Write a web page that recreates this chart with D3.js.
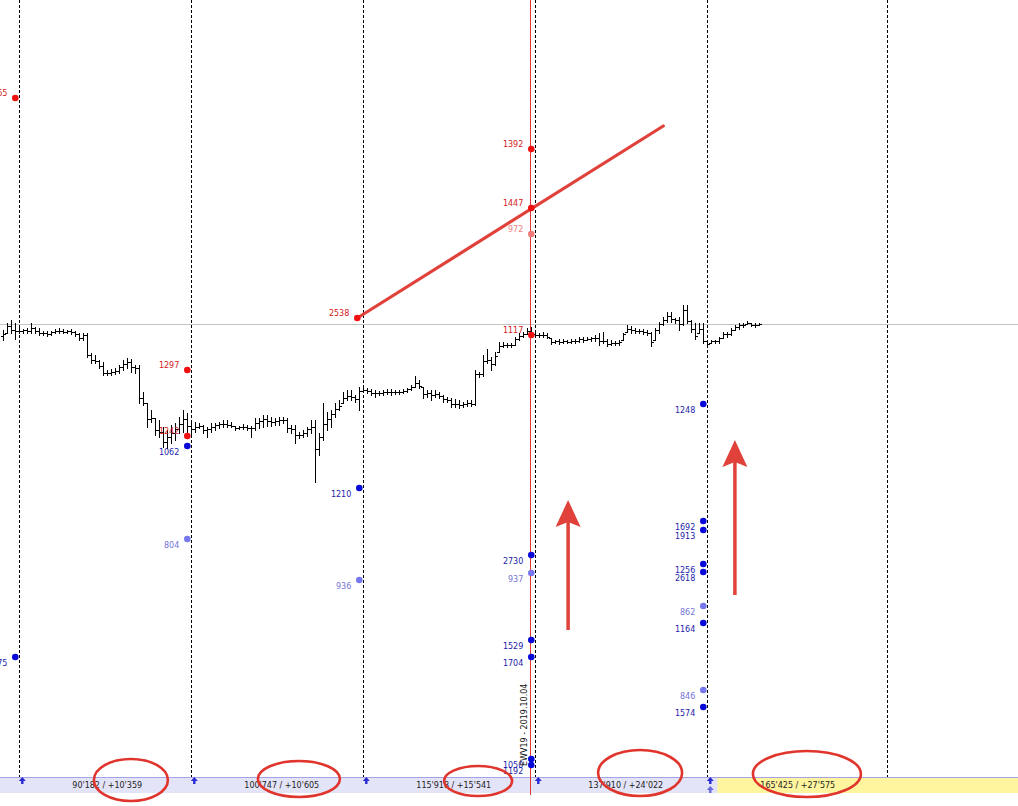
<!DOCTYPE html>
<html>
<head>
<meta charset="utf-8">
<script src="https://cdn.jsdelivr.net/npm/d3@7"></script>
<style>
  body { margin: 0; background: #fff; }
  svg { display: block; }
  .lbl { font-family: "DejaVu Sans", Verdana, sans-serif; font-size: 8px; }
</style>
</head>
<body>
<div id="chart"></div>
<script>
// bar data (high / low / close), opens taken from previous close
const barHigh = [
  994, 1001, 1004, 1001, 996, 995, 996, 1001, 997, 996, 993, 993, 993, 995, 996, 995, 994, 995, 993, 991,
  991, 991, 971, 969, 964, 962, 954, 955, 956, 959, 964, 966, 965, 959, 959, 932, 921, 914, 906, 904,
  897, 894, 899, 901, 907, 914, 911, 904, 902, 901, 899, 897, 901, 901, 902, 904, 904, 902, 898, 898,
  900, 899, 898, 906, 906, 909, 909, 907, 906, 907, 907, 906, 899, 899, 892, 894, 897, 904, 904, 891,
  921, 912, 914, 921, 924, 932, 934, 934, 929, 937, 937, 936, 935, 934, 933, 934, 935, 935, 934, 934,
  935, 936, 939, 948, 944, 937, 934, 934, 934, 932, 929, 927, 926, 925, 924, 922, 924, 924, 954, 952,
  969, 975, 967, 972, 982, 982, 981, 981, 987, 991, 992, 996, 997, 991, 991, 992, 991, 986, 984, 985,
  985, 984, 985, 985, 987, 987, 987, 987, 989, 991, 992, 985, 984, 983, 984, 991, 999, 998, 996, 995,
  995, 994, 992, 996, 1002, 1007, 1012, 1012, 1006, 1007, 1019, 1019, 1004, 1001, 1001, 1001, 984, 984, 984, 987,
  992, 992, 996, 999, 1001, 1001, 1003, 1001, 1001, 1001
];
const barLow = [
  984, 991, 991, 985, 991, 991, 991, 991, 991, 989, 989, 988, 989, 991, 991, 991, 991, 990, 988, 984,
  984, 967, 961, 961, 956, 949, 949, 949, 950, 951, 954, 956, 952, 951, 921, 919, 897, 902, 889, 887,
  877, 876, 881, 884, 891, 892, 891, 887, 892, 896, 891, 887, 892, 894, 896, 897, 897, 897, 894, 895,
  895, 894, 887, 894, 896, 897, 898, 898, 899, 899, 901, 892, 891, 881, 886, 887, 888, 891, 842, 869,
  884, 894, 897, 907, 914, 921, 924, 924, 922, 914, 932, 931, 929, 927, 929, 929, 930, 929, 930, 930,
  931, 932, 934, 937, 936, 926, 927, 924, 927, 926, 922, 922, 917, 917, 916, 917, 918, 918, 919, 947,
  948, 961, 954, 959, 972, 977, 977, 977, 979, 984, 987, 990, 989, 987, 987, 987, 986, 980, 981, 980,
  981, 981, 981, 981, 982, 982, 984, 983, 983, 979, 981, 978, 979, 979, 979, 984, 992, 991, 991, 991,
  990, 989, 978, 984, 991, 999, 1002, 1002, 1001, 994, 999, 1001, 992, 985, 991, 981, 977, 981, 981, 981,
  986, 987, 989, 994, 995, 997, 1000, 998, 997, 999
];
const barClose = [
  990, 998, 994, 993, 993, 994, 993, 996, 993, 991, 991, 990, 992, 993, 993, 992, 993, 992, 990, 986,
  989, 969, 964, 963, 958, 951, 951, 952, 953, 957, 960, 962, 957, 956, 926, 921, 905, 906, 894, 892,
  882, 887, 891, 895, 900, 905, 898, 895, 897, 898, 894, 895, 897, 899, 900, 900, 899, 898, 896, 897,
  897, 896, 896, 901, 903, 905, 903, 902, 903, 904, 904, 896, 895, 889, 889, 891, 895, 897, 875, 887,
  900, 905, 910, 915, 918, 926, 928, 927, 925, 933, 934, 933, 931, 931, 931, 932, 932, 932, 932, 932,
  933, 935, 937, 941, 938, 930, 931, 929, 930, 928, 925, 924, 920, 920, 919, 920, 921, 920, 950, 950,
  963, 964, 960, 968, 978, 979, 979, 979, 985, 988, 990, 993, 990, 989, 989, 989, 987, 982, 983, 982,
  983, 982, 983, 983, 985, 984, 985, 986, 986, 983, 983, 980, 981, 981, 982, 990, 995, 994, 993, 993,
  992, 991, 982, 994, 1000, 1004, 1008, 1005, 1004, 1000, 1014, 1003, 995, 988, 995, 983, 980, 983, 983, 986,
  990, 990, 994, 997, 999, 999, 1001, 999, 999, 1000
];
const firstOpen = 988;

const sessionStarts = [4, 47, 90, 133, 176, 221];
const sessionTotals = ["90'182 / +10'359", "100'747 / +10'605", "115'918 / +15'541", "137'910 / +24'022", "165'425 / +27'575"];
const refLevel = 1000;

// [session, price, label, kind]
const levelMarkers = [
  [0, 1226, "1265", "red"], [0, 667, "1675", "blue"],
  [1, 954, "1297", "red"], [1, 888, "1242", "red"], [1, 878, "1062", "blue"], [1, 785, "804", "light"],
  [2, 836, "1210", "blue"], [2, 744, "936", "light"],
  [3, 1175, "1392", "red"], [3, 1116, "1447", "red"], [3, 1090, "972", "pink"], [3, 989, "1117", "red"],
  [3, 769, "2730", "blue"], [3, 751, "937", "light"], [3, 684, "1529", "blue"], [3, 667, "1704", "blue"],
  [3, 565, "1050", "blue"], [3, 559, "1192", "blue"],
  [4, 920, "1248", "blue"], [4, 803, "1692", "blue"], [4, 794, "1913", "blue"], [4, 760, "1256", "blue"],
  [4, 752, "2618", "blue"], [4, 718, "862", "light"], [4, 701, "1164", "blue"], [4, 634, "846", "light"],
  [4, 617, "1574", "blue"]
];

const trendStart = [88.5, 1006];
const trendEnd = [165, 1198];
const trendLabel = "2538";
const expiryBar = 132;
const expiryLabel = "EWV19 - 2019.10.04";
const arrowBars = [141.2, 182.9];
const arrowFrom = [694, 729];
const arrowTo = [824, 884];

const width = 1018;
const height = 806;
const panelTop = 777;
const panelH = 16;

const dotColor = { red: "#f01010", blue: "#0808d8", light: "#7878ee", pink: "#f27a7a" };
const textColor = { red: "#d42020", blue: "#1c1ca8", light: "#7474d8", pink: "#ee8080" };

const x = d3.scaleLinear().domain([0, 250]).range([3.3, 1003.3]);
const y = d3.scaleLinear().domain([518, 1324]).range([height, 0]);
const px = (v) => Math.round(x(v)) + 0.5;

const svg = d3
  .select("#chart")
  .append("svg")
  .attr("width", width)
  .attr("height", height);

svg.append("rect").attr("width", width).attr("height", height).attr("fill", "#fff");

// reference level
svg
  .append("line")
  .attr("x1", 0)
  .attr("x2", width)
  .attr("y1", Math.round(y(refLevel)) + 0.5)
  .attr("y2", Math.round(y(refLevel)) + 0.5)
  .attr("stroke", "#c4c4c4")
  .attr("stroke-width", 1);

// session separators
svg
  .selectAll(".sep")
  .data(sessionStarts)
  .enter()
  .append("line")
  .attr("class", "sep")
  .attr("x1", (d) => px(d))
  .attr("x2", (d) => px(d))
  .attr("y1", 0)
  .attr("y2", panelTop)
  .attr("stroke", "#000")
  .attr("stroke-width", 1)
  .attr("stroke-dasharray", "3 2");

// expiry line
svg
  .append("line")
  .attr("x1", px(expiryBar) - 1)
  .attr("x2", px(expiryBar) - 1)
  .attr("y1", 0)
  .attr("y2", panelTop + panelH + 2)
  .attr("stroke", "#e43434")
  .attr("stroke-width", 1);

// OHLC bars
const bars = barHigh.map((h, i) => ({
  i: i,
  h: h,
  l: barLow[i],
  c: barClose[i],
  o: Math.max(barLow[i], Math.min(h, i === 0 ? firstOpen : barClose[i - 1])),
}));

svg
  .append("g")
  .attr("shape-rendering", "crispEdges")
  .selectAll(".bar")
  .data(bars)
  .enter()
  .append("path")
  .attr("class", "bar")
  .attr("fill", "none")
  .attr("stroke", "#000")
  .attr("stroke-width", 1)
  .attr("d", (d) => {
    const cx = Math.round(x(d.i));
    const yo = Math.round(y(d.o));
    const yc = Math.round(y(d.c));
    return `M${cx + 0.5},${y(d.h)}V${y(d.l) + 1}` +
      `M${cx - 2},${yo + 0.5}H${cx + 0.5}` +
      `M${cx + 0.5},${yc + 0.5}H${cx + 3}`;
  });

// trend line
svg
  .append("line")
  .attr("x1", x(trendStart[0]))
  .attr("y1", y(trendStart[1]))
  .attr("x2", x(trendEnd[0]))
  .attr("y2", y(trendEnd[1]))
  .attr("stroke", "#e0413a")
  .attr("stroke-width", 3.2)
  .attr("stroke-linecap", "round");

svg
  .append("circle")
  .attr("cx", x(trendStart[0]))
  .attr("cy", y(trendStart[1]))
  .attr("r", 3.3)
  .attr("fill", dotColor.red);

svg
  .append("text")
  .attr("class", "lbl")
  .attr("x", x(trendStart[0]) - 8)
  .attr("y", y(trendStart[1]) - 2)
  .attr("text-anchor", "end")
  .attr("fill", textColor.red)
  .text(trendLabel);

// level markers
const markers = levelMarkers.map((m) => ({
  bar: sessionStarts[m[0]] - 1,
  price: m[1],
  label: m[2],
  kind: m[3],
}));

svg
  .selectAll(".dot")
  .data(markers)
  .enter()
  .append("circle")
  .attr("class", "dot")
  .attr("cx", (d) => x(d.bar))
  .attr("cy", (d) => y(d.price))
  .attr("r", 3.3)
  .attr("fill", (d) => dotColor[d.kind]);

svg
  .selectAll(".mlabel")
  .data(markers)
  .enter()
  .append("text")
  .attr("class", "lbl mlabel")
  .attr("x", (d) => x(d.bar) - 8)
  .attr("y", (d) => (d.kind === "red" || d.kind === "pink" ? y(d.price) - 2 : y(d.price) + 9))
  .attr("text-anchor", "end")
  .attr("fill", (d) => textColor[d.kind])
  .text((d) => d.label);

// expiry label
svg
  .append("text")
  .attr("class", "lbl")
  .attr("transform", `translate(${x(expiryBar) - 4},${panelTop - 11}) rotate(-90)`)
  .attr("fill", "#111")
  .text(expiryLabel);

// hand-drawn arrows
arrowBars.forEach((b, k) => {
  const ax = x(b);
  const yTip = y(arrowTo[k]);
  svg
    .append("line")
    .attr("x1", ax)
    .attr("x2", ax)
    .attr("y1", y(arrowFrom[k]))
    .attr("y2", yTip + 20)
    .attr("stroke", "#e0413a")
    .attr("stroke-width", 3.5);
  svg
    .append("path")
    .attr("d", `M${ax},${yTip}L${ax + 12.5},${yTip + 27}L${ax},${yTip + 22}L${ax - 12.5},${yTip + 27}Z`)
    .attr("fill", "#e0413a");
});

// bottom panel
svg
  .append("rect")
  .attr("x", 0)
  .attr("y", panelTop)
  .attr("width", width)
  .attr("height", panelH)
  .attr("fill", "#e4e4f8");

svg
  .append("rect")
  .attr("x", px(sessionStarts[4]) + 10)
  .attr("y", panelTop)
  .attr("width", width - px(sessionStarts[4]) - 10)
  .attr("height", panelH)
  .attr("fill", "#fff59e");

svg
  .append("line")
  .attr("x1", 0)
  .attr("x2", width)
  .attr("y1", panelTop + 0.5)
  .attr("y2", panelTop + 0.5)
  .attr("stroke", "#a4a4e4")
  .attr("stroke-width", 1);

svg
  .append("line")
  .attr("x1", px(expiryBar) - 1)
  .attr("x2", px(expiryBar) - 1)
  .attr("y1", panelTop)
  .attr("y2", panelTop + panelH + 2)
  .attr("stroke", "#e43434")
  .attr("stroke-width", 1);

svg
  .selectAll(".total")
  .data(sessionTotals)
  .enter()
  .append("text")
  .attr("class", "lbl total")
  .attr("x", (d, i) => x(sessionStarts[i]) + 53)
  .attr("y", panelTop + 11)
  .attr("fill", "#222")
  .text((d) => d);

const upArrow = (ax, ay, color) => {
  svg
    .append("path")
    .attr("d", `M${ax - 3.5},${ay}L${ax},${ay - 4}L${ax + 3.5},${ay}H${ax + 1.2}V${ay + 3}H${ax - 1.2}V${ay}Z`)
    .attr("fill", color);
};

sessionStarts.slice(0, 5).forEach((s) => upArrow(x(s) + 3, panelTop + 4, "#2a2ad0"));
upArrow(x(sessionStarts[4]) + 3, panelTop + 13, "#6a6ae0");

// red ellipses around totals
const ellipseBars = [31.9, 73.9, 118.7, 159.2, 200.9];
const ellipseCy = [780, 779, 781, 773, 774];
const ellipseRx = [37, 41, 34, 42, 54];
const ellipseRy = [21, 18, 15, 23, 23];

svg
  .selectAll(".ring")
  .data(ellipseBars)
  .enter()
  .append("ellipse")
  .attr("class", "ring")
  .attr("cx", (d) => x(d))
  .attr("cy", (d, i) => ellipseCy[i])
  .attr("rx", (d, i) => ellipseRx[i])
  .attr("ry", (d, i) => ellipseRy[i])
  .attr("fill", "none")
  .attr("stroke", "#e0352d")
  .attr("stroke-width", 2.6);
</script>
</body>
</html>
